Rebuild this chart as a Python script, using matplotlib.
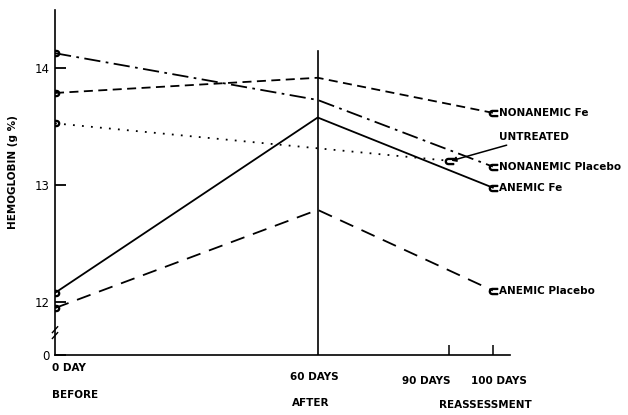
import matplotlib
matplotlib.use("Agg")
from matplotlib import pyplot as plt

# days of observation for each group
days_full = [0, 60, 100]
days_untreated = [0, 90]

# hemoglobin (g %)
nonanemic_fe = [13.79, 13.92, 13.62]
nonanemic_placebo = [14.13, 13.73, 13.16]
untreated = [13.53, 13.21]
anemic_fe = [12.08, 13.58, 12.98]
anemic_placebo = [11.95, 12.79, 12.10]

y_ticks = [11.55, 12, 13, 14]
y_tick_labels = ["0", "12", "13", "14"]

series = [
    (days_full, nonanemic_fe, (0, (5, 3)), "NONANEMIC Fe"),
    (days_full, nonanemic_placebo, (0, (9, 3, 1.5, 3)), "NONANEMIC Placebo"),
    (days_untreated, untreated, (0, (1, 4)), None),
    (days_full, anemic_fe, "-", "ANEMIC Fe"),
    (days_full, anemic_placebo, (0, (8, 5)), "ANEMIC Placebo"),
]

plt.rcParams['font.family'] = ['DejaVu Sans']
fig = plt.figure(figsize=(6.28, 4.15), dpi=100)
ax = fig.add_axes([0.0876, 0.145, 0.725, 0.831])

for x, y, ls, label in series:
    ax.plot(x, y, color="black", lw=1.3, linestyle=ls)
    ax.plot(x[0], y[0], marker="$\\supset$", color="black", ms=6, linestyle="none")
    ax.plot(x[-1], y[-1], marker="$\\subset$", color="black", ms=6, linestyle="none")
    if label:
        ax.text(x[-1] + 1.5, y[-1], label, fontsize=7.5, fontweight="bold",
                va="center", ha="left")

# untreated label with pointer
ax.annotate("UNTREATED", xy=(days_untreated[-1] + 0.5, untreated[-1]),
            xytext=(101.5, 13.41), fontsize=7.5, fontweight="bold",
            va="center", ha="left",
            arrowprops=dict(arrowstyle="-|>", color="black", lw=1.1,
                            shrinkA=0, shrinkB=0, mutation_scale=7))

# vertical line at 60 days
ax.plot([60, 60], [11.55, 14.15], color="black", lw=1.2)

ax.set_xlim(0, 104)
ax.set_ylim(11.55, 14.5)
ax.spines["top"].set_visible(False)
ax.spines["right"].set_visible(False)
ax.spines["left"].set_linewidth(1.2)
ax.spines["bottom"].set_linewidth(1.2)

ax.set_yticks(y_ticks)
ax.set_yticklabels(y_tick_labels, fontsize=8.5)
ax.tick_params(axis="y", direction="in", length=8, width=1.3, pad=4)
ax.set_xticks([90, 100])
ax.set_xticklabels([])
ax.tick_params(axis="x", direction="in", length=7, width=1.1)

# axis break mark
ax.plot([-0.6, 0.6], [11.74, 11.79], color="black", lw=1, clip_on=False)
ax.plot([-0.6, 0.6], [11.69, 11.74], color="black", lw=1, clip_on=False)

ax.set_ylabel("HEMOGLOBIN (g %)", fontsize=7.5, fontweight="bold")
ax.yaxis.set_label_coords(-0.082, 0.53)

# x-axis labels
xt = ax.get_xaxis_transform()
kw = dict(transform=xt, fontsize=7.5, fontweight="bold", va="center")
ax.text(-0.8, -0.038, "0 DAY", ha="left", **kw)
ax.text(-0.8, -0.116, "BEFORE", ha="left", **kw)
ax.text(59.3, -0.064, "60 DAYS", ha="center", **kw)
ax.text(58.5, -0.139, "AFTER", ha="center", **kw)
ax.text(84.9, -0.075, "90 DAYS", ha="center", **kw)
ax.text(101.4, -0.075, "100 DAYS", ha="center", **kw)
ax.text(98.2, -0.145, "REASSESSMENT", ha="center", **kw)

fig.savefig("out.png", dpi=100)
